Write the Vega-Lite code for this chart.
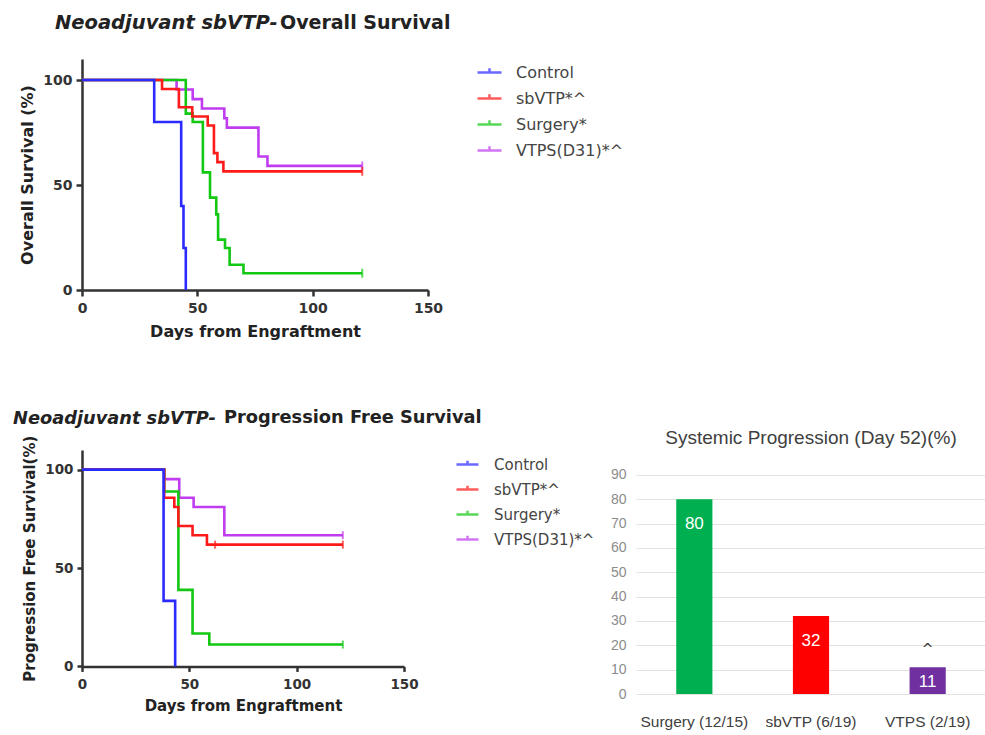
{
  "$schema": "https://vega.github.io/schema/vega-lite/v6.json",
  "background": "white",
  "padding": {"left": 13, "top": 12, "right": 0, "bottom": 0},
  "title": {"text": "Neoadjuvant sbVTP-", "anchor": "start", "frame": "group", "dx": -27, "dy": 23, "font": "DejaVu Sans", "fontSize": 19.5, "fontStyle": "italic", "fontWeight": "bold", "color": "#222"},
  "datasets": {
    "os": [
      {"group": "VTPS(D31)*^", "day": 0, "pct": 100},
      {"group": "VTPS(D31)*^", "day": 41, "pct": 95.5},
      {"group": "VTPS(D31)*^", "day": 48, "pct": 90.9},
      {"group": "VTPS(D31)*^", "day": 52, "pct": 86.4},
      {"group": "VTPS(D31)*^", "day": 61.7, "pct": 81.8},
      {"group": "VTPS(D31)*^", "day": 62.8, "pct": 77.3},
      {"group": "VTPS(D31)*^", "day": 76.5, "pct": 63.6},
      {"group": "VTPS(D31)*^", "day": 80.4, "pct": 59.1},
      {"group": "VTPS(D31)*^", "day": 121.5, "pct": 59.1, "censor": true},
      {"group": "Surgery*", "day": 0, "pct": 100},
      {"group": "Surgery*", "day": 45, "pct": 84},
      {"group": "Surgery*", "day": 48, "pct": 80},
      {"group": "Surgery*", "day": 52.4, "pct": 56},
      {"group": "Surgery*", "day": 55.5, "pct": 44},
      {"group": "Surgery*", "day": 58.2, "pct": 36},
      {"group": "Surgery*", "day": 59, "pct": 24},
      {"group": "Surgery*", "day": 62, "pct": 20},
      {"group": "Surgery*", "day": 64, "pct": 12},
      {"group": "Surgery*", "day": 70, "pct": 8},
      {"group": "Surgery*", "day": 121.5, "pct": 8, "censor": true},
      {"group": "sbVTP*^", "day": 0, "pct": 100},
      {"group": "sbVTP*^", "day": 34.7, "pct": 95.7},
      {"group": "sbVTP*^", "day": 42, "pct": 87},
      {"group": "sbVTP*^", "day": 47.8, "pct": 82.6},
      {"group": "sbVTP*^", "day": 54.5, "pct": 78.3},
      {"group": "sbVTP*^", "day": 57.2, "pct": 65.2},
      {"group": "sbVTP*^", "day": 58.7, "pct": 60.9},
      {"group": "sbVTP*^", "day": 61.3, "pct": 56.5},
      {"group": "sbVTP*^", "day": 121.5, "pct": 56.5, "censor": true},
      {"group": "Control", "day": 0, "pct": 100},
      {"group": "Control", "day": 31.3, "pct": 80},
      {"group": "Control", "day": 43, "pct": 40},
      {"group": "Control", "day": 44, "pct": 20},
      {"group": "Control", "day": 45, "pct": 0}
    ],
    "pfs": [
      {"group": "VTPS(D31)*^", "day": 0, "pct": 100},
      {"group": "VTPS(D31)*^", "day": 38.3, "pct": 95.2},
      {"group": "VTPS(D31)*^", "day": 45.3, "pct": 85.7},
      {"group": "VTPS(D31)*^", "day": 52, "pct": 81},
      {"group": "VTPS(D31)*^", "day": 66.3, "pct": 66.7},
      {"group": "VTPS(D31)*^", "day": 121.5, "pct": 66.7, "censor": true},
      {"group": "Surgery*", "day": 0, "pct": 100},
      {"group": "Surgery*", "day": 38.3, "pct": 88.9},
      {"group": "Surgery*", "day": 44.9, "pct": 38.9},
      {"group": "Surgery*", "day": 51.5, "pct": 16.7},
      {"group": "Surgery*", "day": 59.3, "pct": 11.1},
      {"group": "Surgery*", "day": 121.5, "pct": 11.1, "censor": true},
      {"group": "sbVTP*^", "day": 0, "pct": 100},
      {"group": "sbVTP*^", "day": 38.3, "pct": 85.7},
      {"group": "sbVTP*^", "day": 43, "pct": 81},
      {"group": "sbVTP*^", "day": 44.9, "pct": 71.4},
      {"group": "sbVTP*^", "day": 51.5, "pct": 66.7},
      {"group": "sbVTP*^", "day": 58.2, "pct": 61.9},
      {"group": "sbVTP*^", "day": 62, "pct": 61.9, "censor": true},
      {"group": "sbVTP*^", "day": 121.5, "pct": 61.9, "censor": true},
      {"group": "Control", "day": 0, "pct": 100},
      {"group": "Control", "day": 38, "pct": 33.3},
      {"group": "Control", "day": 43.4, "pct": 0}
    ],
    "progression": [
      {"group": "Surgery (12/15)", "pct": 80},
      {"group": "sbVTP (6/19)", "pct": 32},
      {"group": "VTPS (2/19)", "pct": 11, "sig": "^"}
    ]
  },
  "bounds": "flush",
  "spacing": 160,
  "resolve": {"scale": {"color": "independent"}, "legend": {"color": "independent"}},
  "vconcat": [
    {
      "width": 346,
      "height": 231,
      "title": {"text": "Overall Survival", "anchor": "start", "frame": "group", "dx": 198, "offset": 26, "font": "DejaVu Sans", "fontSize": 19, "fontWeight": "bold", "color": "#222"},
      "data": {"name": "os"},
      "encoding": {
        "x": {"field": "day", "type": "quantitative", "scale": {"domain": [0, 150], "nice": false},
              "axis": {"title": "Days from Engraftment", "values": [0, 50, 100, 150], "grid": false, "labelFlush": false,
                       "domainColor": "#333", "domainWidth": 2.5, "tickColor": "#333", "tickWidth": 2.5, "tickSize": 6,
                       "labelFont": "DejaVu Sans", "labelFontWeight": "bold", "labelFontSize": 14, "labelColor": "#333", "labelPadding": 5,
                       "titleFont": "DejaVu Sans", "titleFontWeight": "bold", "titleFontSize": 16, "titleColor": "#222", "titlePadding": 8}},
        "y": {"field": "pct", "type": "quantitative", "scale": {"domain": [0, 110], "nice": false},
              "axis": {"title": "Overall Survival (%)", "values": [0, 50, 100], "grid": false, "labelFlush": false,
                       "domainColor": "#333", "domainWidth": 2.5, "tickColor": "#333", "tickWidth": 2.5, "tickSize": 6,
                       "labelFont": "DejaVu Sans", "labelFontWeight": "bold", "labelFontSize": 14, "labelColor": "#333", "labelPadding": 4,
                       "titleFont": "DejaVu Sans", "titleFontWeight": "bold", "titleFontSize": 16, "titleColor": "#222", "titlePadding": 7}},
        "color": {"field": "group", "type": "nominal",
                  "scale": {"domain": ["Control", "sbVTP*^", "Surgery*", "VTPS(D31)*^"], "range": ["#2b2bff", "#ff1a1a", "#12c812", "#c03cf0"]},
                  "legend": {"title": null, "orient": "none", "legendX": 394, "legendY": 0, "padding": 0,
                             "symbolType": "M-1,0L1,0M0,-0.35L0,0", "symbolSize": 576, "symbolStrokeWidth": 2.5,
                             "labelFont": "DejaVu Sans", "labelFontSize": 16, "labelColor": "#444", "labelOffset": 13, "rowPadding": 4}}
      },
      "layer": [
        {"mark": {"type": "line", "interpolate": "step-after", "strokeWidth": 2.6}},
        {"transform": [{"filter": "datum.censor === true"}], "mark": {"type": "tick", "orient": "vertical", "size": 9, "thickness": 2}}
      ]
    },
    {
      "bounds": "flush",
      "spacing": 232,
      "title": {"text": "Neoadjuvant sbVTP-", "anchor": "start", "frame": "group", "dx": -69, "dy": 22, "font": "DejaVu Sans", "fontSize": 17.8, "fontStyle": "italic", "fontWeight": "bold", "color": "#222"},
      "resolve": {"scale": {"color": "independent"}, "legend": {"color": "independent"}},
      "hconcat": [
        {
          "width": 322,
          "height": 216.4,
          "title": {"text": "Progression Free Survival", "anchor": "start", "frame": "group", "dx": 142, "offset": 8, "font": "DejaVu Sans", "fontSize": 17.8, "fontWeight": "bold", "color": "#222"},
          "data": {"name": "pfs"},
          "encoding": {
            "x": {"field": "day", "type": "quantitative", "scale": {"domain": [0, 150], "nice": false},
                  "axis": {"title": "Days from Engraftment", "values": [0, 50, 100, 150], "grid": false, "labelFlush": false,
                           "domainColor": "#333", "domainWidth": 2.5, "tickColor": "#333", "tickWidth": 2.5, "tickSize": 5,
                           "labelFont": "DejaVu Sans", "labelFontWeight": "bold", "labelFontSize": 13.5, "labelColor": "#333", "labelPadding": 6,
                           "titleFont": "DejaVu Sans", "titleFontWeight": "bold", "titleFontSize": 15, "titleColor": "#222", "titlePadding": 8}},
            "y": {"field": "pct", "type": "quantitative", "scale": {"domain": [0, 110], "nice": false},
                  "axis": {"title": "Progression Free Survival(%)", "values": [0, 50, 100], "grid": false, "labelFlush": false,
                           "domainColor": "#333", "domainWidth": 2.5, "tickColor": "#333", "tickWidth": 2.5, "tickSize": 5,
                           "labelFont": "DejaVu Sans", "labelFontWeight": "bold", "labelFontSize": 13.5, "labelColor": "#333", "labelPadding": 4,
                           "titleFont": "DejaVu Sans", "titleFontWeight": "bold", "titleFontSize": 15, "titleColor": "#222", "titlePadding": 7}},
            "color": {"field": "group", "type": "nominal",
                      "scale": {"domain": ["Control", "sbVTP*^", "Surgery*", "VTPS(D31)*^"], "range": ["#2b2bff", "#ff1a1a", "#12c812", "#c03cf0"]},
                      "legend": {"title": null, "orient": "none", "legendX": 373, "legendY": 2, "padding": 0,
                                 "symbolType": "M-1,0L1,0M0,-0.35L0,0", "symbolSize": 484, "symbolStrokeWidth": 2.5,
                                 "labelFont": "DejaVu Sans", "labelFontSize": 15, "labelColor": "#444", "labelOffset": 14, "rowPadding": 4}}
          },
          "layer": [
            {"mark": {"type": "line", "interpolate": "step-after", "strokeWidth": 2.6}},
            {"transform": [{"filter": "datum.censor === true"}], "mark": {"type": "tick", "orient": "vertical", "size": 8, "thickness": 2}}
          ]
        },
        {
          "width": 350,
          "height": 244,
          "title": {"text": "Systemic Progression (Day 52)(%)", "anchor": "middle", "offset": 2, "font": "Liberation Sans", "fontSize": 19, "fontWeight": "normal", "color": "#404040"},
          "data": {"name": "progression"},
          "encoding": {
            "x": {"field": "group", "type": "nominal", "sort": null,
                  "scale": {"paddingInner": 0.69, "paddingOuter": 0.345},
                  "axis": {"title": null, "domain": false, "ticks": false, "labelAngle": 0, "labelPadding": 20,
                           "labelFont": "Liberation Sans", "labelFontSize": 15.5, "labelColor": "#404040"}},
            "y": {"field": "pct", "type": "quantitative", "scale": {"domain": [0, 100.2], "nice": false},
                  "axis": {"title": null, "domain": false, "ticks": false, "grid": true, "gridColor": "#e2e2e2", "gridWidth": 1,
                           "values": [0, 10, 20, 30, 40, 50, 60, 70, 80, 90], "labelPadding": 10,
                           "labelFont": "Liberation Sans", "labelFontSize": 14, "labelColor": "#8c8c8c"}}
          },
          "layer": [
            {"mark": {"type": "bar"},
             "encoding": {"color": {"field": "group", "type": "nominal",
                                    "scale": {"domain": ["Surgery (12/15)", "sbVTP (6/19)", "VTPS (2/19)"], "range": ["#00b050", "#ff0000", "#7030a0"]},
                                    "legend": null}}},
            {"transform": [{"filter": "datum.pct >= 20"}],
             "mark": {"type": "text", "baseline": "top", "dy": 17, "font": "Liberation Sans", "fontSize": 17, "color": "white"},
             "encoding": {"text": {"field": "pct", "type": "quantitative"}}},
            {"transform": [{"filter": "datum.pct < 20"}],
             "mark": {"type": "text", "baseline": "top", "dy": 7, "font": "Liberation Sans", "fontSize": 17, "color": "white"},
             "encoding": {"text": {"field": "pct", "type": "quantitative"}}},
            {"transform": [{"filter": "isValid(datum.sig)"}],
             "mark": {"type": "text", "baseline": "bottom", "dy": -10, "font": "DejaVu Sans", "fontSize": 14, "color": "#333"},
             "encoding": {"text": {"field": "sig", "type": "nominal"}}}
          ]
        }
      ]
    }
  ],
  "config": {"view": {"stroke": null}}
}
